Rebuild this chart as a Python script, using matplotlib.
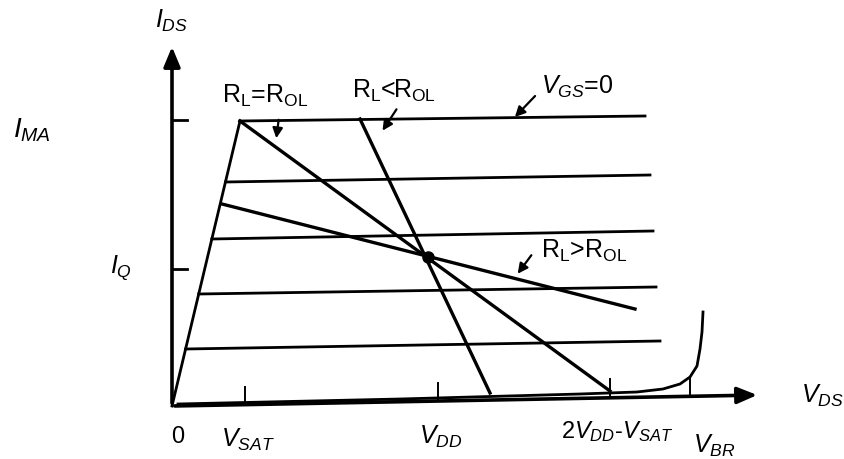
import numpy as np
import matplotlib.pyplot as plt

plt.rcParams['mathtext.fontset'] = 'custom'
plt.rcParams['mathtext.rm'] = 'Liberation Sans'
plt.rcParams['mathtext.it'] = 'Liberation Sans:italic'
plt.rcParams['font.family'] = 'Liberation Sans'

# diagram coordinates (picture units, y pointing down)
origin = (172, 407)
y_axis_top = 45
x_axis_end = (760, 396)

# saturation ramp and V_GS=0 curve
ramp_x = [172, 240]
ramp_y = [407, 122]
top_x = [240, 645]
top_y = [122, 117]

# the other V_GS curves (left y, right end x, right y)
curve_y_left = [183, 240, 295, 350]
curve_x_right = [650, 653, 656, 660]
curve_y_right = [176, 232, 288, 342]

# pinch-off curve with breakdown
pinch_x = [178, 400, 580, 637, 663, 680, 690, 697, 700, 702, 703]
pinch_y = [405, 400, 395, 393, 390, 385, 378, 367, 350, 333, 313]

# load lines
load_eq = ([240, 610], [122, 392])
load_lt = ([360, 490], [120, 394])
load_gt = ([222, 635], [205, 310])
q_point = (428, 258)

# axis ticks
xtick_x = [245, 438, 610, 690]
xtick_y0 = [405, 401, 397, 395]
ytick_y = [121, 270]

fig = plt.figure(figsize=(8.44, 4.60), dpi=100)
ax = fig.add_axes([0, 0, 1, 1])
ax.set_xlim(0, 844)
ax.set_ylim(460, 0)
ax.axis('off')

lw = 2.0
# axes with arrows
ax.annotate('', xy=(origin[0], y_axis_top), xytext=origin,
            arrowprops=dict(arrowstyle='-|>,head_length=1.2,head_width=0.5', lw=2.6, color='black'))
ax.annotate('', xy=x_axis_end, xytext=origin,
            arrowprops=dict(arrowstyle='-|>,head_length=1.2,head_width=0.5', lw=2.6, color='black'))

for yt in ytick_y:
    ax.plot([origin[0], origin[0] + 15], [yt, yt], color='black', lw=lw)
for xt, yt in zip(xtick_x, xtick_y0):
    ax.plot([xt, xt], [yt, yt - 17], color='black', lw=1.4)

ax.plot(ramp_x, ramp_y, color='black', lw=lw)
ax.plot(top_x, top_y, color='black', lw=lw)
for yl, xr, yr in zip(curve_y_left, curve_x_right, curve_y_right):
    xl = ramp_x[0] + (ramp_x[1] - ramp_x[0]) * (ramp_y[0] - yl) / (ramp_y[0] - ramp_y[1])
    ax.plot([xl, xr], [yl, yr], color='black', lw=lw)
ax.plot(pinch_x, pinch_y, color='black', lw=lw, solid_joinstyle='round')

for xs, ys in (load_eq, load_lt, load_gt):
    ax.plot(xs, ys, color='black', lw=lw + 0.4)
ax.plot(*q_point, 'o', color='black', ms=8)

# labels
fs = 18
ax.text(172, 21, r'$\mathit{I}_{\mathit{DS}}$', fontsize=fs, ha='center', va='center')
ax.text(13, 130, r'$\mathit{I}_{\mathit{MA}}$', fontsize=fs + 2, ha='left', va='center')
ax.text(110, 268, r'$\mathit{I}_{\mathit{Q}}$', fontsize=fs, ha='left', va='center')
ax.text(178, 437, '0', fontsize=fs - 1, ha='center', va='center')
ax.text(248, 440, r'$\mathit{V}_{\mathit{SAT}}$', fontsize=fs, ha='center', va='center')
ax.text(441, 437, r'$\mathit{V}_{\mathit{DD}}$', fontsize=fs, ha='center', va='center')
ax.text(617, 432, r'$2\mathit{V}_{\mathit{DD}}$-$\mathit{V}_{\mathit{SAT}}$', fontsize=fs - 1, ha='center', va='center')
ax.text(714, 446, r'$\mathit{V}_{\mathit{BR}}$', fontsize=fs, ha='center', va='center')
ax.text(822, 396, r'$\mathit{V}_{\mathit{DS}}$', fontsize=fs, ha='center', va='center')

arrow = dict(arrowstyle='-|>,head_length=0.6,head_width=0.3', lw=1.6, color='black')
ax.annotate('', xy=(276, 142), xytext=(279, 118), arrowprops=arrow)
ax.text(265, 96, r'R$_{\mathrm{L}}$=R$_{\mathrm{OL}}$', fontsize=fs, ha='center', va='center')
ax.annotate('', xy=(381, 134), xytext=(398, 108), arrowprops=arrow)
ax.text(394, 91, r'R$_{\mathrm{L}}$<R$_{\mathrm{OL}}$', fontsize=fs, ha='center', va='center')
ax.annotate('', xy=(513, 120), xytext=(537, 95), arrowprops=arrow)
ax.text(577, 87, r'$\mathit{V}_{\mathit{GS}}$=0', fontsize=fs, ha='center', va='center')
ax.annotate('', xy=(516, 277), xytext=(533, 254), arrowprops=arrow)
ax.text(584, 251, r'R$_{\mathrm{L}}$>R$_{\mathrm{OL}}$', fontsize=fs, ha='center', va='center')

plt.savefig('out.png', dpi=100)
plt.close(fig)
